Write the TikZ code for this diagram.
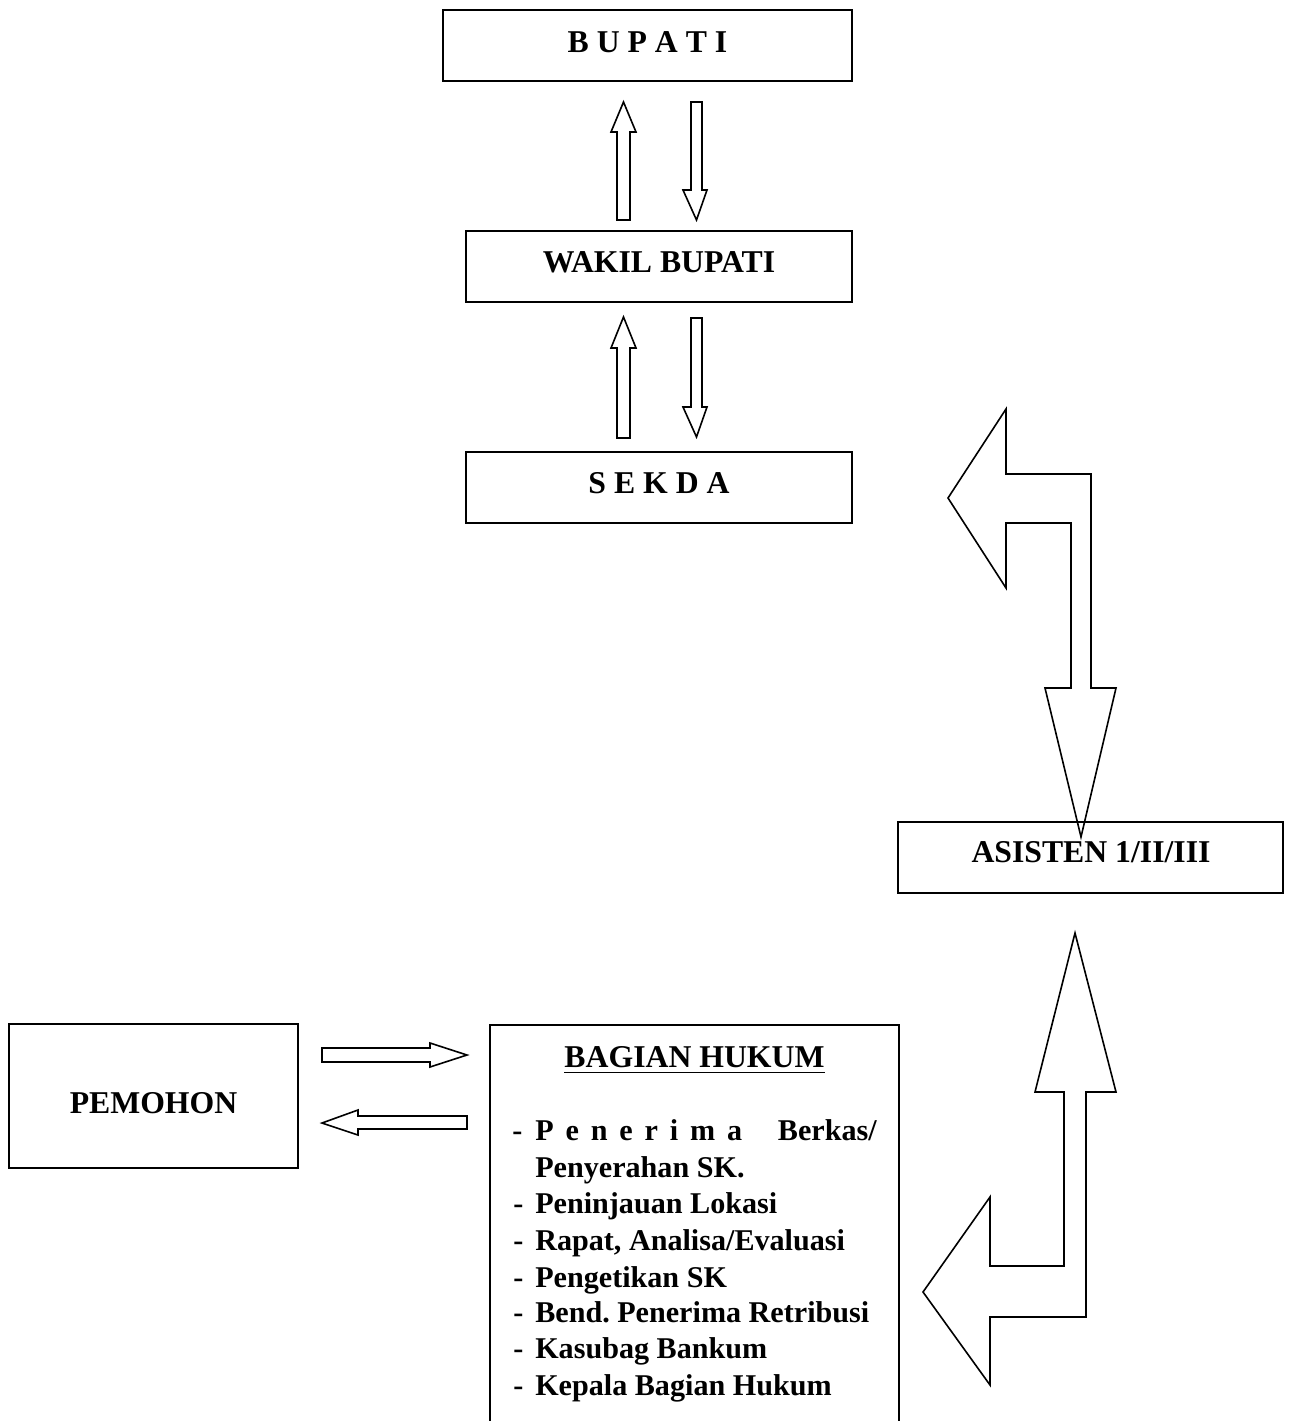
\documentclass[tikz,border=0pt]{standalone}
\usepackage{fontspec}
\setmainfont{Liberation Serif}
\usetikzlibrary{fit}
\begin{document}
\begin{tikzpicture}[x=0.75pt,y=-0.75pt,
  box/.style={draw, line width=1.2pt, inner sep=0pt},
  lbl/.style={anchor=base, inner sep=0pt, font=\bfseries\fontsize{23.8}{27}\selectfont},
  item/.style={anchor=base west, inner sep=0pt, font=\bfseries\fontsize{22.6}{27}\selectfont},
  blk/.style={draw, line width=1.2pt, line join=miter}]
\useasboundingbox (0,0) rectangle (1291,1421);
\clip (0,0) rectangle (1291,1421);

% boxes
\node[box, fit={(443,10) (852,81)}] (bupati) {};
\node[box, fit={(466,231) (852,302)}] (wakil) {};
\node[box, fit={(466,452) (852,523)}] (sekda) {};
\node[box, fit={(898,822) (1283,893)}] (asisten) {};
\node[box, fit={(9,1024) (298,1168)}] (pemohon) {};
\node[box, fit={(490,1025) (899,1440)}] (bagian) {};

% labels
\node[lbl] (tBupati) at (647.5,52) {B U P A T I};
\node[lbl] (tWakil) at (659,272) {WAKIL BUPATI};
\node[lbl] (tSekda) at (659,493) {S E K D A};
\node[lbl] (tAsisten) at (1091,862) {ASISTEN 1/II/III};
\node[lbl] (tPemohon) at (153.5,1113) {PEMOHON};
\node[lbl] (tBagian) at (694.5,1067) {BAGIAN HUKUM};
\draw[line width=1.2pt] ([yshift=-4pt]tBagian.base west) -- ([yshift=-4pt]tBagian.base east);

% list
\node[item] (d1) at (512,1140) {-};
\node[item] (i1) at (535,1140) {\makebox[155.25pt][s]{P\hfill e\hfill n\hfill e\hfill r\hfill i\hfill m\hfill a}};
\node[item, anchor=base east] (i1b) at (877,1140) {Berkas/};
\node[item] (i1c) at (535,1177) {Penyerahan SK.};
\node[item] (d2) at (513,1213) {-};
\node[item] (i2) at (535,1213) {Peninjauan Lokasi};
\node[item] (d3) at (513,1250) {-};
\node[item] (i3) at (535,1250) {Rapat, Analisa/Evaluasi};
\node[item] (d4) at (513,1287) {-};
\node[item] (i4) at (535,1287) {Pengetikan SK};
\node[item] (d5) at (513,1322) {-};
\node[item] (i5) at (535,1322) {Bend.\ Penerima Retribusi};
\node[item] (d6) at (513,1358) {-};
\node[item] (i6) at (535,1358) {Kasubag Bankum};
\node[item] (d7) at (513,1395) {-};
\node[item] (i7) at (535,1395) {Kepala Bagian Hukum};

% small vertical arrows (Bupati <-> Wakil)
\draw[blk] (623.5,102) -- (636,132) -- (630,132) -- (630,220) -- (617,220) -- (617,132) -- (611,132) -- cycle;
\draw[blk] (696.5,220) -- (707,190) -- (702,190) -- (702,102) -- (691,102) -- (691,190) -- (683,190) -- cycle;
% small vertical arrows (Wakil <-> Sekda)
\draw[blk] (623.5,317) -- (636,348) -- (630,348) -- (630,438) -- (617,438) -- (617,348) -- (611,348) -- cycle;
\draw[blk] (696.5,437) -- (707,407) -- (702,407) -- (702,318) -- (691,318) -- (691,407) -- (683,407) -- cycle;

% horizontal arrows (Pemohon <-> Bagian Hukum)
\draw[blk] (467,1055) -- (430,1067) -- (430,1062) -- (322,1062) -- (322,1048) -- (430,1048) -- (430,1043) -- cycle;
\draw[blk] (322,1123) -- (358,1110) -- (358,1116) -- (467,1116) -- (467,1129) -- (358,1129) -- (358,1135) -- cycle;

% big bent arrow Sekda <-> Asisten
\draw[blk] (948,498) -- (1006,409) -- (1006,474) -- (1091,474) -- (1091,688) -- (1116,688)
  -- (1081,837) -- (1045,688) -- (1071,688) -- (1071,523) -- (1006,523) -- (1006,588) -- cycle;

% big bent arrow Asisten <-> Bagian Hukum
\draw[blk] (1075,933) -- (1116,1092) -- (1086,1092) -- (1086,1317) -- (990,1317) -- (990,1385)
  -- (923,1292) -- (990,1197) -- (990,1266) -- (1064,1266) -- (1064,1092) -- (1035,1092) -- cycle;
\end{tikzpicture}
\end{document}
